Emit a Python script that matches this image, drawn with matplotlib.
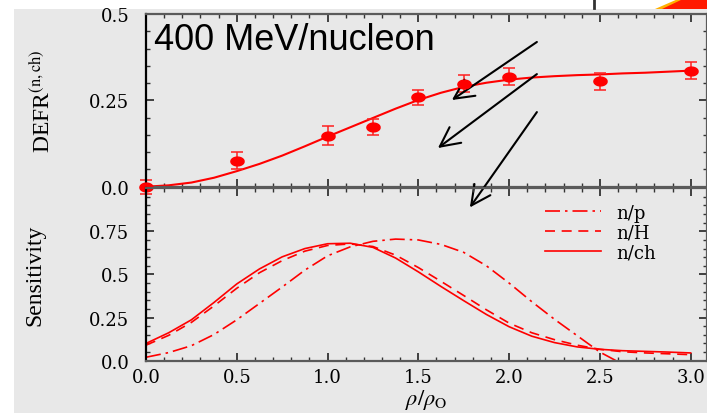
import numpy as np
import matplotlib.pyplot as plt
from matplotlib.patches import Rectangle, Polygon
from matplotlib.lines import Line2D
from matplotlib.ticker import FixedLocator, MultipleLocator

plt.rcParams['mathtext.fontset'] = 'stix'

# DEFR(n,ch) points with error bars
rho_pts = [0.0, 0.5, 1.0, 1.25, 1.5, 1.75, 2.0, 2.5, 3.0]
defr_pts = [0.0, 0.075, 0.148, 0.172, 0.259, 0.298, 0.319, 0.305, 0.336]
defr_err = [0.02, 0.025, 0.027, 0.023, 0.022, 0.024, 0.025, 0.024, 0.025]

# fitted DEFR curve
rho_fit = [0.0, 0.125, 0.25, 0.375, 0.5, 0.625, 0.75, 0.875, 1.0, 1.125, 1.25,
           1.375, 1.5, 1.625, 1.75, 1.875, 2.0, 2.125, 2.25, 2.375, 2.5,
           2.625, 2.75, 2.875, 3.0]
defr_fit = [0.0, 0.004, 0.012, 0.026, 0.045, 0.066, 0.09, 0.117, 0.145, 0.172,
            0.199, 0.226, 0.251, 0.272, 0.289, 0.301, 0.31, 0.316, 0.32, 0.323,
            0.325, 0.328, 0.33, 0.333, 0.336]

# sensitivities
rho_sens = rho_fit
sens_ch = [0.1, 0.162, 0.237, 0.338, 0.445, 0.532, 0.602, 0.65, 0.678, 0.681, 0.657,
           0.595, 0.515, 0.43, 0.348, 0.268, 0.197, 0.142, 0.105, 0.08, 0.066,
           0.058, 0.054, 0.05, 0.045]
sens_h = [0.09, 0.147, 0.222, 0.318, 0.42, 0.51, 0.58, 0.635, 0.668, 0.677, 0.662,
          0.612, 0.54, 0.46, 0.378, 0.295, 0.218, 0.162, 0.122, 0.09, 0.066,
          0.052, 0.045, 0.04, 0.035]
rho_np = [0.0, 0.125, 0.25, 0.375, 0.5, 0.625, 0.75, 0.875, 1.0, 1.125, 1.25,
          1.375, 1.5, 1.625, 1.75, 1.875, 2.0, 2.125, 2.25, 2.375, 2.5, 2.625]
sens_p = [0.02, 0.047, 0.087, 0.152, 0.237, 0.332, 0.427, 0.525, 0.608, 0.66, 0.692,
          0.705, 0.7, 0.674, 0.628, 0.55, 0.45, 0.342, 0.24, 0.145, 0.05, -0.02]

# arrows (tail -> head) in DEFR axes units
arrow_tails = [(2.153, 0.419), (2.153, 0.326), (2.153, 0.216)]
arrow_heads = [(1.685, 0.251), (1.608, 0.112), (1.784, -0.06)]

W, H = 707, 414
fig = plt.figure(figsize=(W / 100, H / 100), dpi=100)
fig.patch.set_facecolor('white')
bg = '#e8e8e8'
fig.add_artist(Rectangle((14 / W, 0), 1 - 14 / W, (H - 10) / H, transform=fig.transFigure,
                         facecolor=bg, edgecolor='none', zorder=-10))
# bits of the slide above the plot
fig.add_artist(Line2D([594 / W, 594 / W], [1 - 9 / H, 1], transform=fig.transFigure,
                      color='#333333', lw=2))
fig.add_artist(Polygon([[655 / W, 1 - 10 / H], [678 / W, 1], [1, 1], [1, 1 - 10 / H]],
                       closed=True, transform=fig.transFigure, facecolor='#ffb000',
                       edgecolor='none'))
fig.add_artist(Polygon([[662 / W, 1 - 10 / H], [683 / W, 1], [1, 1], [1, 1 - 10 / H]],
                       closed=True, transform=fig.transFigure, facecolor='#ff1a00',
                       edgecolor='none'))

ax1 = fig.add_axes([146 / W, 1 - 187.7 / H, 561 / W, 172.7 / H])
ax2 = fig.add_axes([146 / W, 1 - 361.7 / H, 561 / W, 172.5 / H])

tick_font = {'family': 'DejaVu Serif', 'size': 13}

for ax in (ax1, ax2):
    ax.set_facecolor('none')
    ax.set_xlim(0, 3.09)
    for s in ax.spines.values():
        s.set_color('#5a5a5a')
        s.set_linewidth(1.6)
    ax.spines['left'].set_color('black')
    ax.xaxis.set_major_locator(MultipleLocator(0.5))
    ax.xaxis.set_minor_locator(MultipleLocator(0.1))
    ax.yaxis.set_minor_locator(MultipleLocator(0.05))
    ax.tick_params(which='both', direction='in', top=True, right=True, color='#333333')
    ax.tick_params(which='major', length=6, width=1.3)
    ax.tick_params(which='minor', length=3, width=1)
    ax.tick_params(axis='y', pad=12)
    ax.tick_params(axis='x', pad=5)

# upper panel
ell = np.linspace(0, 2 * np.pi, 40)
ell_marker = np.column_stack([1.5 * np.cos(ell), np.sin(ell)])
ax1.plot(rho_fit, defr_fit, color='red', lw=1.5)
ax1.errorbar(rho_pts, defr_pts, yerr=defr_err, fmt='none', ecolor='#ff2020',
             elinewidth=1.1, capsize=4.3, capthick=1.1, clip_on=False)
ax1.plot(rho_pts, defr_pts, ls='none', marker=ell_marker, ms=9.5, color='red',
         clip_on=False, zorder=5)
ax1.set_ylim(0, 0.5)
ax1.yaxis.set_major_locator(FixedLocator([0, 0.25, 0.5]))
ax1.set_yticklabels(['0.0', '0.25', '0.5'], fontdict=tick_font)
ax1.tick_params(axis='x', labelbottom=False)
ax1.set_ylabel(r'DEFR$^{\mathrm{(n,ch)}}$', fontsize=17, family='Liberation Serif')
ax1.yaxis.set_label_coords(-0.163, 0.5)
ax1.text(0.014, 0.797, '400 MeV/nucleon', transform=ax1.transAxes, fontsize=26,
         family='Liberation Sans', va='baseline', ha='left')

for (x0, y0), (x1, y1) in zip(arrow_tails, arrow_heads):
    ax1.annotate('', xy=(x1, y1), xytext=(x0, y0), annotation_clip=False,
                 arrowprops=dict(arrowstyle='->,head_length=0.7,head_width=0.35',
                                 color='black', lw=1.5, mutation_scale=20,
                                 shrinkA=0, shrinkB=0))

# lower panel
ax2.plot(rho_np, sens_p, color='red', lw=1.2, ls=(0, (9, 3, 1.5, 3)), label='n/p')
ax2.plot(rho_sens, sens_h, color='red', lw=1.2, ls=(0, (6, 4)), label='n/H')
ax2.plot(rho_sens, sens_ch, color='red', lw=1.2, label='n/ch')
ax2.set_ylim(0, 1.0)
ax2.yaxis.set_major_locator(FixedLocator([0, 0.25, 0.5, 0.75, 1.0]))
ax2.set_yticklabels(['0.0', '0.25', '0.5', '0.75', ''], fontdict=tick_font)
ax2.set_xticks([0, 0.5, 1.0, 1.5, 2.0, 2.5, 3.0])
ax2.set_xticklabels(['0.0', '0.5', '1.0', '1.5', '2.0', '2.5', '3.0'], fontdict=tick_font)
ax2.set_ylabel('Sensitivity', fontsize=17, family='Liberation Serif')
ax2.yaxis.set_label_coords(-0.18, 0.5)
ax2.set_xlabel(r'$\rho/\rho_{\mathrm{O}}$', fontsize=16)
ax2.xaxis.set_label_coords(0.5, -0.15)
ax2.legend(loc='upper left', bbox_to_anchor=(0.712, 0.91), frameon=False,
           prop={'family': 'DejaVu Serif', 'size': 13}, handlelength=3.1,
           handletextpad=0.8, labelspacing=0.1, borderpad=0, borderaxespad=0)

fig.savefig('out.png', dpi=100)
